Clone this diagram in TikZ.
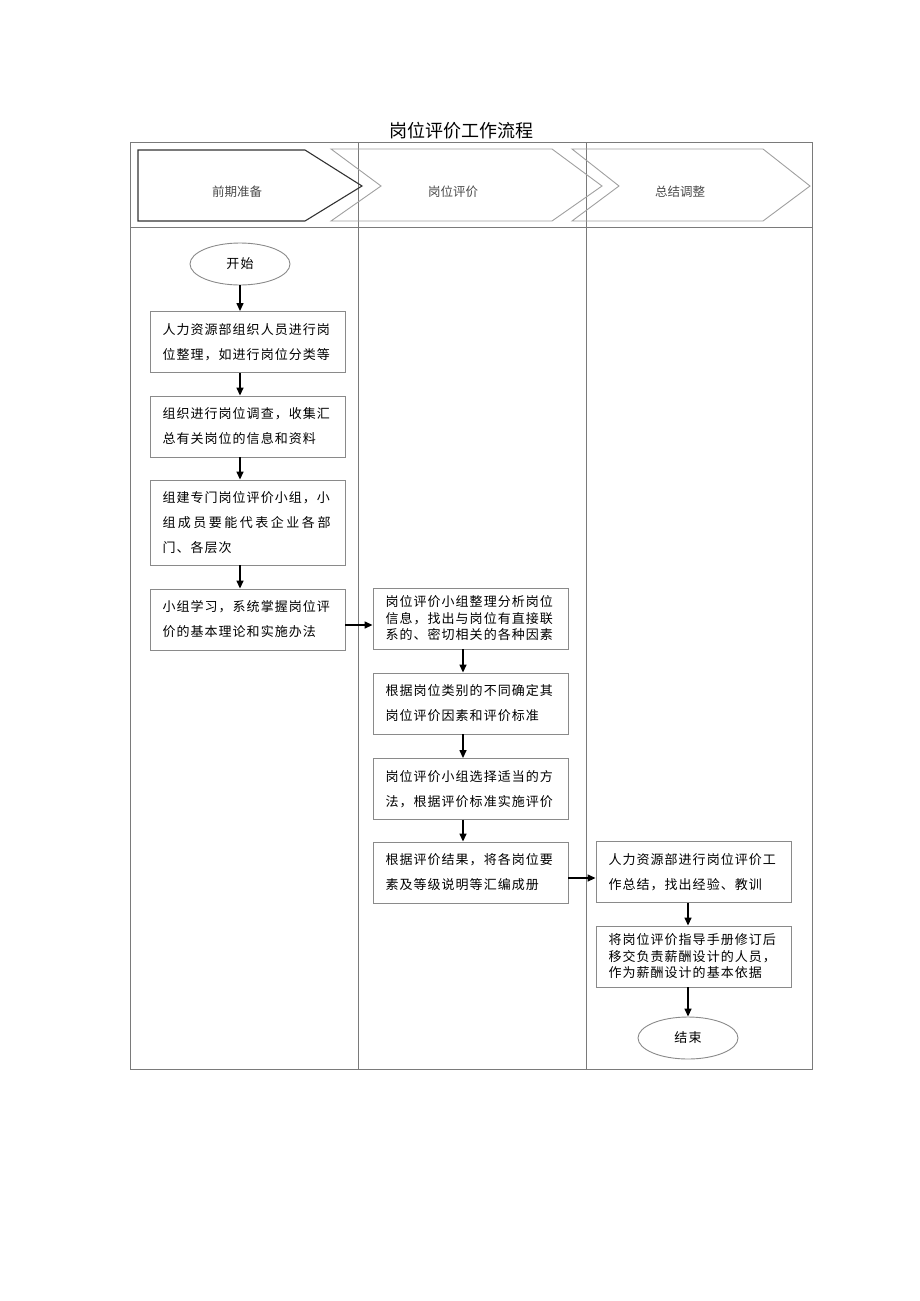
\documentclass[tikz,border=0pt]{standalone}
\usepackage{fontspec}
\setmainfont{Noto Sans CJK SC}
\newfontfamily\cjk[LetterSpace=8]{Noto Sans CJK SC}
\usetikzlibrary{arrows.meta,calc,shapes.geometric}
\definecolor{boxgray}{HTML}{8A8A8A}
\definecolor{framegray}{HTML}{7A7A7A}
\definecolor{chevdark}{HTML}{333333}
\definecolor{chevlight}{HTML}{A0A0A0}
\definecolor{headtext}{HTML}{4A4A4A}
\begin{document}
\begin{tikzpicture}[x=1pt,y=-1pt,
  box/.style={draw=boxgray,line width=0.9pt,minimum width=195pt,text width=170pt,
    align=left,inner sep=0pt,font=\cjk\fontsize{13}{25}\selectfont},
  tightbox/.style={box,font=\cjk\fontsize{13}{16.5}\selectfont},
  term/.style={draw=boxgray,line width=0.9pt,ellipse,minimum width=100pt,minimum height=42pt,
    inner sep=0pt,font=\cjk\fontsize{13}{16}\selectfont},
  arr/.style={line width=1.4pt,-{Triangle[length=8pt,width=7pt]}},
  headlabel/.style={font=\fontsize{12.5}{14}\selectfont,text=headtext,inner sep=0pt},
  frameline/.style={draw=framegray,line width=0.9pt}]
\useasboundingbox (0,0) rectangle (920,1301);
% title
\node[font=\fontsize{18}{21}\selectfont,inner sep=0pt] (title) at (461,131) {岗位评价工作流程};
% frame
\draw[frameline] (130,142) rectangle (812,1069);
\draw[frameline] (130,227) -- (812,227);
\draw[frameline] (358,142) -- (358,1069);
\draw[frameline] (586,142) -- (586,1069);
% chevrons
\draw[chevlight,line width=0.9pt] (572,149) -- (763,149) -- (810,186) -- (763,221) -- (572,221) -- (619,186) -- cycle;
\draw[chevlight,line width=0.9pt] (331,149) -- (552,149) -- (602,186) -- (552,221) -- (331,221) -- (381,186) -- cycle;
\draw[chevdark,line width=1.1pt] (138,150) -- (305,150) -- (362,186) -- (305,221) -- (138,221) -- cycle;
\node[headlabel] (h1) at (237,192) {前期准备};
\node[headlabel] (h2) at (453,192) {岗位评价};
\node[headlabel] (h3) at (680,192) {总结调整};
% left column
\node[term] (L0) at (240,264) {开始};
\node[box,minimum height=61pt] (L1) at (247.5,342) {人力资源部组织人员进行岗\\位整理，如进行岗位分类等};
\node[box,minimum height=61pt] (L2) at (247.5,426.5) {组织进行岗位调查，收集汇\\总有关岗位的信息和资料};
\node[box,minimum height=85pt] (L3) at (247.5,522.5) {组建专门岗位评价小组，小\\\makebox[168pt][s]{组\hfill 成\hfill 员\hfill 要\hfill 能\hfill 代\hfill 表\hfill 企\hfill 业\hfill 各\hfill 部}\\门、各层次};
\node[box,minimum height=61pt] (L4) at (247.5,619.5) {小组学习，系统掌握岗位评\\价的基本理论和实施办法};
% middle column
\node[tightbox,minimum height=61pt] (M1) at (470.5,618.5) {岗位评价小组整理分析岗位\\信息，找出与岗位有直接联\\系的、密切相关的各种因素};
\node[box,minimum height=61pt] (M2) at (470.5,703.5) {根据岗位类别的不同确定其\\岗位评价因素和评价标准};
\node[box,minimum height=61pt] (M3) at (470.5,789) {岗位评价小组选择适当的方\\法，根据评价标准实施评价};
\node[box,minimum height=61pt] (M4) at (470.5,872.5) {根据评价结果，将各岗位要\\素及等级说明等汇编成册};
% right column
\node[box,minimum height=61pt] (R1) at (693.5,872) {人力资源部进行岗位评价工\\作总结，找出经验、教训};
\node[tightbox,minimum height=61pt] (R2) at (693.5,956.5) {将岗位评价指导手册修订后\\移交负责薪酬设计的人员，\\作为薪酬设计的基本依据};
\node[term] (E) at (688,1038) {结束};
% arrows
\draw[arr] (L0.south) -- (L1.north -| L0.south);
\draw[arr] (L1.south -| L0.south) -- (L2.north -| L0.south);
\draw[arr] (L2.south -| L0.south) -- (L3.north -| L0.south);
\draw[arr] (L3.south -| L0.south) -- (L4.north -| L0.south);
\draw[arr] ($(L4.east)+(0,5.5)$) -- ($(M1.west)+(0,6.5)$);
\draw[arr] ($(M1.south)+(-7.5,0)$) -- ($(M2.north)+(-7.5,0)$);
\draw[arr] ($(M2.south)+(-7.5,0)$) -- ($(M3.north)+(-7.5,0)$);
\draw[arr] ($(M3.south)+(-7.5,0)$) -- ($(M4.north)+(-7.5,0)$);
\draw[arr] ($(M4.east)+(0,5.5)$) -- ($(R1.west)+(0,6)$);
\draw[arr] (R1.south -| E.north) -- (R2.north -| E.north);
\draw[arr] (R2.south -| E.north) -- (E.north);
\end{tikzpicture}
\end{document}
